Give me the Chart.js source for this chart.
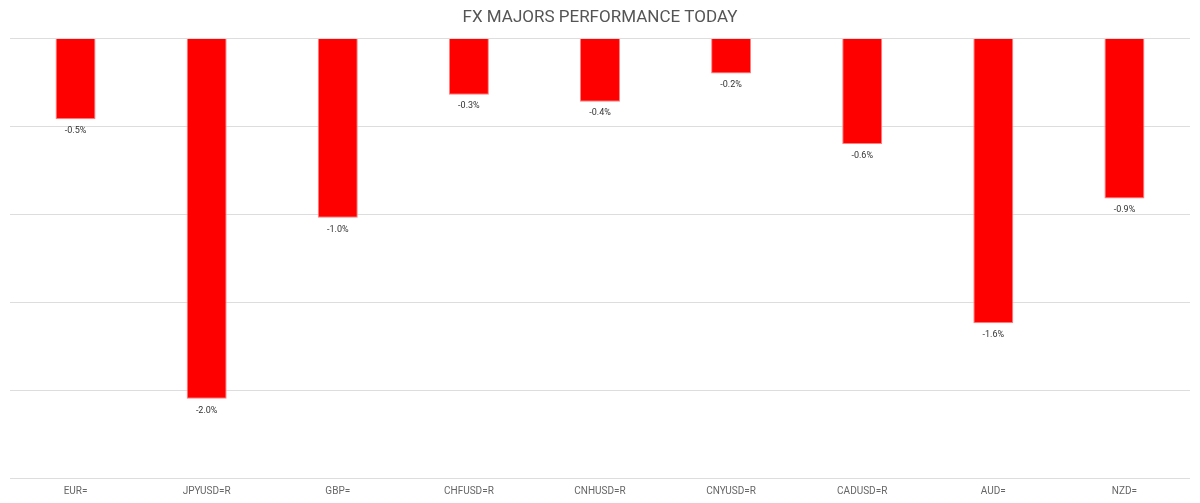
<!DOCTYPE html>
<html>
<head>
<meta charset="utf-8">
<script src="https://cdn.jsdelivr.net/npm/chart.js@4/dist/chart.umd.min.js"></script>
<style>
html,body{margin:0;padding:0;background:#fff;}
#wrap{width:1200px;height:503px;}
</style>
</head>
<body>
<div id="wrap"><canvas id="c"></canvas></div>
<script>
const categories = ["EUR=", "JPYUSD=R", "GBP=", "CHFUSD=R", "CNHUSD=R", "CNYUSD=R", "CADUSD=R", "AUD=", "NZD="];
const values = [-0.46, -2.05, -1.02, -0.32, -0.36, -0.20, -0.60, -1.62, -0.91];
const valueLabels = ["-0.5%", "-2.0%", "-1.0%", "-0.3%", "-0.4%", "-0.2%", "-0.6%", "-1.6%", "-0.9%"];
const FONT = "Roboto, 'DejaVu Sans', sans-serif";

const labelPlugin = {
  id: 'barLabels',
  afterDatasetsDraw(chart) {
    const ctx = chart.ctx;
    const meta = chart.getDatasetMeta(0);
    ctx.save();
    ctx.font = "9px " + FONT;
    ctx.fillStyle = "#333";
    ctx.textAlign = "center";
    ctx.textBaseline = "top";
    meta.data.forEach((bar, i) => {
      ctx.fillText(valueLabels[i], bar.x, bar.y + 7);
    });
    ctx.restore();
  }
};

new Chart(document.getElementById('c'), {
  type: 'bar',
  data: {
    labels: categories,
    datasets: [{
      data: values,
      backgroundColor: '#ff0000',
      borderColor: '#ff8080',
      borderWidth: 1,
      barPercentage: 0.305,
      categoryPercentage: 1.0
    }]
  },
  options: {
    responsive: true,
    maintainAspectRatio: false,
    animation: false,
    layout: { padding: { left: 10, right: 10, top: 0, bottom: 0 } },
    plugins: {
      legend: { display: false },
      tooltip: { enabled: false },
      title: {
        display: true,
        text: 'FX MAJORS PERFORMANCE TODAY',
        color: '#555',
        font: { family: FONT, size: 17, weight: 'normal' },
        padding: { top: 8, bottom: 10 }
      }
    },
    scales: {
      x: {
        grid: { display: false, drawTicks: false },
        border: { display: false },
        ticks: { color: '#666', font: { family: FONT, size: 10 }, padding: 7, maxRotation: 0, autoSkip: false },
        afterFit(scale) { scale.height = 25; }
      },
      y: {
        min: -2.5,
        max: 0,
        ticks: { display: false, stepSize: 0.5 },
        grid: { color: '#dddddd', drawTicks: false },
        border: { display: false }
      }
    }
  },
  plugins: [labelPlugin]
});
</script>
</body>
</html>
